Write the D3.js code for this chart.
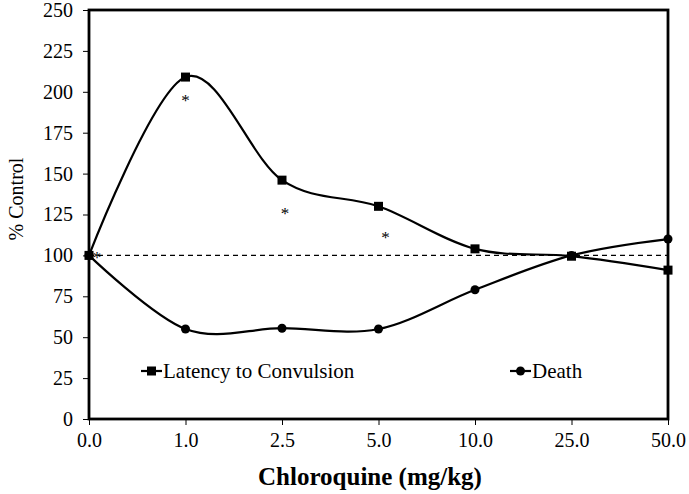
<!DOCTYPE html>
<html><head><meta charset="utf-8">
<script src="https://cdn.jsdelivr.net/npm/d3@7"></script>
<style>body{margin:0;background:#fff}svg{display:block}</style>
</head><body><svg id="c" width="689" height="494"></svg>
<script>
const categories = ["0.0","1.0","2.5","5.0","10.0","25.0","50.0"];
const latency = [100, 209, 146, 130, 104, 99.5, 91];
const death = [100, 55, 55.5, 55, 79, 100, 110];
const starCats = ["0.0","1.0","2.5","5.0"];
const starVals = [100, 196, 127, 112.5];
const yTicks = [0,25,50,75,100,125,150,175,200,225,250];

const FF = "Liberation Serif, Times New Roman, Tinos, Noto Serif, DejaVu Serif, serif";
const svg = d3.select("#c").style("font-family", FF);
const m = {l:89, r:668, t:10, b:419};
const x = d3.scalePoint().domain(categories).range([m.l, m.r]).padding(0);
const y = d3.scaleLinear().domain([0,250]).range([m.b, m.t]);

svg.append("line").attr("x1", m.l).attr("x2", m.r).attr("y1", y(100)).attr("y2", y(100))
  .attr("stroke","#000").attr("stroke-width",1.2).attr("stroke-dasharray","5,4");

const ya = svg.append("g").attr("transform",`translate(${m.l},0)`)
  .call(d3.axisLeft(y).tickValues(yTicks).tickSize(6).tickPadding(10));
const xa = svg.append("g").attr("transform",`translate(0,${m.b})`)
  .call(d3.axisBottom(x).tickSize(6).tickPadding(8));
[ya,xa].forEach(g=>{
  g.attr("font-family", null).attr("font-size", 20);
  g.select(".domain").remove();
  g.selectAll(".tick line").attr("stroke","#000").attr("stroke-width",1);
  g.selectAll(".tick text").attr("fill","#000").style("font-family", FF);
});
svg.append("rect").attr("x",m.l).attr("y",m.t).attr("width",m.r-m.l).attr("height",m.b-m.t)
  .attr("fill","none").attr("stroke","#000").attr("stroke-width",2.8);

const line = d3.line().x((d,i)=>x(categories[i])).y(d=>y(d)).curve(d3.curveCardinal.tension(0));
svg.append("path").datum(latency).attr("d",line).attr("fill","none").attr("stroke","#000").attr("stroke-width",2.2);
svg.append("path").datum(death).attr("d",line).attr("fill","none").attr("stroke","#000").attr("stroke-width",2.2);

svg.selectAll(".sq").data(latency).enter().append("rect")
  .attr("x",(d,i)=>x(categories[i])-4.5).attr("y",d=>y(d)-4.5).attr("width",9).attr("height",9).attr("fill","#000");
svg.selectAll(".ci").data(death).enter().append("circle")
  .attr("cx",(d,i)=>x(categories[i])).attr("cy",d=>y(d)).attr("r",4.5).attr("fill","#000");

svg.selectAll(".st").data(starVals).enter().append("text")
  .attr("x",(d,i)=>x(starCats[i]) + (i===0?8:(i===1?0:(i===2?3:7))))
  .attr("y",d=>y(d)+8).attr("text-anchor","middle").attr("font-size",17).attr("fill","#000")
  .style("font-family", FF).text("*");

function legend(x0, yy, label, shape){
  svg.append("line").attr("x1",x0).attr("x2",x0+21).attr("y1",yy).attr("y2",yy).attr("stroke","#000").attr("stroke-width",2.2);
  if(shape==="sq") svg.append("rect").attr("x",x0+6).attr("y",yy-4.5).attr("width",9).attr("height",9).attr("fill","#000");
  else svg.append("circle").attr("cx",x0+10.5).attr("cy",yy).attr("r",4.5).attr("fill","#000");
  svg.append("text").attr("x",x0+22).attr("y",yy+7).attr("font-size",21).attr("fill","#000")
    .style("font-family", FF).text(label);
}
legend(141, 371, "Latency to Convulsion", "sq");
legend(510, 371, "Death", "ci");

svg.append("text").attr("transform","translate(23,199) rotate(-90)").attr("text-anchor","middle")
  .attr("font-size",20).attr("fill","#000").style("font-family", FF).text("% Control");
svg.append("text").attr("x",370).attr("y",485).attr("text-anchor","middle")
  .attr("font-size",25).attr("font-weight","bold").attr("fill","#000").style("font-family", FF).text("Chloroquine (mg/kg)");
</script></body></html>
